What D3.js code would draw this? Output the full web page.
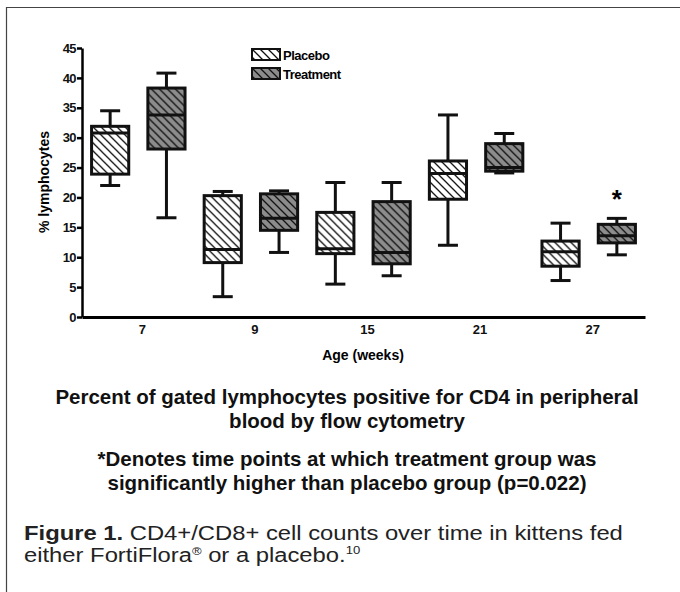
<!DOCTYPE html>
<html>
<head>
<meta charset="utf-8">
<script src="https://cdn.jsdelivr.net/npm/d3@7"></script>
<style>
  body { margin: 0; background: #fff; }
  svg { display: block; }
  .chartfont { font-family: "Liberation Sans", Arial, sans-serif; font-weight: bold; }
  .captionfont { font-family: "Liberation Sans", Arial, sans-serif; }
</style>
</head>
<body>
<div id="chart"></div>
<script>
// week groups along the x axis
var weeks = ['7', '9', '15', '21', '27'];
var groups = ['Placebo', 'Treatment'];
// each entry: [min, q1, median, q3, max] in % lymphocytes
var placebo = [
	[22.0, 23.9, 30.8, 31.9, 34.5],
	[3.4, 9.1, 11.3, 20.3, 21.0],
	[5.5, 10.6, 11.4, 17.5, 22.5],
	[12.0, 19.7, 24.0, 26.1, 33.8],
	[6.1, 8.5, 10.9, 12.7, 15.7]
];
var treatment = [
	[16.6, 28.1, 33.8, 38.3, 40.8],
	[10.8, 14.5, 16.5, 20.6, 21.1],
	[6.9, 8.9, 10.8, 19.3, 22.5],
	[24.1, 24.4, 25.0, 29.0, 30.7],
	[10.4, 12.4, 13.6, 15.5, 16.5]
];
var significant = [false, false, false, false, true];
var yTicks = [0, 5, 10, 15, 20, 25, 30, 35, 40, 45];

var width = 680, height = 592;
var svg = d3.select('#chart').append('svg')
	.attr('width', width)
	.attr('height', height);

// frame: top and left rules only
svg.append('path')
	.attr('d', 'M6.5,' + height + 'V7.5H' + width)
	.attr('fill', 'none')
	.attr('stroke', '#444')
	.attr('stroke-width', 1.2);

var defs = svg.append('defs');
function hatch(id, bg) {
	var p = defs.append('pattern')
		.attr('id', id)
		.attr('patternUnits', 'userSpaceOnUse')
		.attr('width', 8)
		.attr('height', 8);
	p.append('rect').attr('width', 8).attr('height', 8).attr('fill', bg);
	p.append('path')
		.attr('d', 'M0,0L8,8M-2,6L2,10M6,-2L10,2')
		.attr('stroke', '#111')
		.attr('stroke-width', 1.3);
}
hatch('hatch-placebo', '#fff');
hatch('hatch-treatment', '#8c8c8c');
var fills = { Placebo: 'url(#hatch-placebo)', Treatment: 'url(#hatch-treatment)' };

var x0 = d3.scaleBand().domain(weeks).range([82, 645]);
var x1 = d3.scaleBand().domain(groups).range([0, x0.bandwidth()]);
var y = d3.scaleLinear().domain([0, 45]).range([317, 48]);

var boxW = x1.bandwidth() * 0.66;
var capW = 20;

// y axis
var yAxis = svg.append('g')
	.attr('class', 'chartfont')
	.attr('transform', 'translate(82,0)')
	.call(d3.axisLeft(y).tickValues(yTicks).tickSize(5).tickSizeOuter(0).tickPadding(1));
yAxis.selectAll('path, line').attr('stroke', '#000').attr('stroke-width', 2.5);
yAxis.selectAll('text')
	.attr('fill', '#111')
	.style('font-size', '13px')
	.style('letter-spacing', '-0.6px')
	.style('font-weight', 'bold');

// x axis: baseline without ticks
var xAxis = svg.append('g')
	.attr('transform', 'translate(0,317)')
	.call(d3.axisBottom(x0).tickSize(0).tickPadding(8));
xAxis.select('path').attr('stroke', '#000').attr('stroke-width', 3);
xAxis.selectAll('text')
	.attr('fill', '#111')
	.attr('dx', 4)
	.style('font-size', '13px')
	.style('font-family', '"Liberation Sans", sans-serif')
	.style('font-weight', 'bold');

svg.append('text')
	.attr('class', 'chartfont')
	.attr('transform', 'translate(49,182) rotate(-90)')
	.attr('text-anchor', 'middle')
	.style('font-size', '14px')
	.text('% lymphocytes');

svg.append('text')
	.attr('class', 'chartfont')
	.attr('x', 363).attr('y', 360)
	.attr('text-anchor', 'middle')
	.style('font-size', '14px')
	.text('Age  (weeks)');

// boxes
var rows = [];
weeks.forEach(function (w, i) {
	rows.push({ week: w, group: 'Placebo', s: placebo[i], star: false });
	rows.push({ week: w, group: 'Treatment', s: treatment[i], star: significant[i] });
});

var box = svg.append('g').selectAll('g')
	.data(rows)
	.enter().append('g')
	.attr('transform', function (d) { return 'translate(' + (x0(d.week) + x1(d.group) + x1.bandwidth() / 2) + ',0)'; });

box.append('line')
	.attr('x1', 0).attr('x2', 0)
	.attr('y1', function (d) { return y(d.s[4]); })
	.attr('y2', function (d) { return y(d.s[0]); })
	.attr('stroke', '#111').attr('stroke-width', 3);
box.selectAll('line.cap')
	.data(function (d) { return [d.s[0], d.s[4]]; })
	.enter().append('line')
	.attr('class', 'cap')
	.attr('x1', -capW / 2).attr('x2', capW / 2)
	.attr('y1', function (v) { return y(v); })
	.attr('y2', function (v) { return y(v); })
	.attr('stroke', '#111').attr('stroke-width', 3);
box.append('rect')
	.attr('x', -boxW / 2)
	.attr('width', boxW)
	.attr('y', function (d) { return y(d.s[3]); })
	.attr('height', function (d) { return y(d.s[1]) - y(d.s[3]); })
	.attr('fill', function (d) { return fills[d.group]; })
	.attr('stroke', '#111').attr('stroke-width', 3);
box.append('line')
	.attr('x1', -boxW / 2).attr('x2', boxW / 2)
	.attr('y1', function (d) { return y(d.s[2]); })
	.attr('y2', function (d) { return y(d.s[2]); })
	.attr('stroke', '#111').attr('stroke-width', 3);
box.filter(function (d) { return d.star; })
	.append('text')
	.attr('y', function (d) { return y(d.s[4]) - 10; })
	.attr('text-anchor', 'middle')
	.style('font-family', '"Liberation Sans", sans-serif')
	.style('font-weight', 'bold')
	.style('font-size', '26px')
	.text('*');

// legend
var legend = svg.append('g').selectAll('g')
	.data(groups)
	.enter().append('g')
	.attr('transform', function (d, i) { return 'translate(252,' + (49 + i * 19) + ')'; });
legend.append('rect')
	.attr('width', 28).attr('height', 11)
	.attr('fill', function (d) { return fills[d]; })
	.attr('stroke', '#111').attr('stroke-width', 2);
legend.append('text')
	.attr('class', 'chartfont')
	.attr('x', 31).attr('y', 10.5)
	.style('font-size', '13px')
	.style('letter-spacing', '-0.5px')
	.text(function (d) { return d; });

// chart notes
var notes = [
	'Percent of gated lymphocytes positive for CD4 in peripheral',
	'blood by flow cytometry',
	'*Denotes time points at which treatment group was',
	'significantly higher than placebo group (p=0.022)'
];
var noteY = [404, 428, 466, 490];
svg.append('g').selectAll('text')
	.data(notes)
	.enter().append('text')
	.attr('class', 'chartfont')
	.attr('x', 347)
	.attr('y', function (d, i) { return noteY[i]; })
	.attr('text-anchor', 'middle')
	.attr('fill', '#111')
	.style('font-size', '20.5px')
	.text(function (d) { return d; });

// figure caption, stretched a little wider like the source print
var cap1 = svg.append('text')
	.attr('class', 'captionfont')
	.attr('transform', 'translate(24,540) scale(1.19,1)')
	.attr('fill', '#222')
	.style('font-size', '20px');
cap1.append('tspan').style('font-weight', 'bold').text('Figure 1.');
cap1.append('tspan').text(' CD4+/CD8+ cell counts over time in kittens fed');
var cap2 = svg.append('text')
	.attr('class', 'captionfont')
	.attr('transform', 'translate(24,562) scale(1.19,1)')
	.attr('fill', '#222')
	.style('font-size', '20px');
cap2.append('tspan').text('either FortiFlora');
cap2.append('tspan').attr('dy', -7).style('font-size', '11px').text('®');
cap2.append('tspan').attr('dy', 7).text(' or a placebo.');
cap2.append('tspan').attr('dy', -8).style('font-size', '11px').text('10');
</script>
</body>
</html>
